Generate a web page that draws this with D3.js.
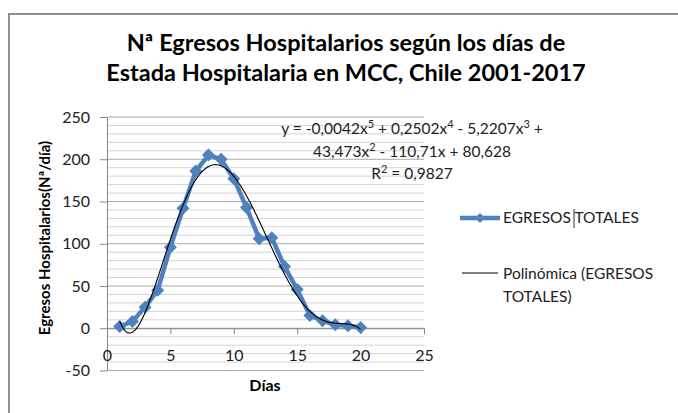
<!DOCTYPE html>
<html>
<head>
<meta charset="utf-8">
<script src="https://cdn.jsdelivr.net/npm/d3@7"></script>
<style>
  body { margin: 0; background: #fff; }
  svg { display: block; font-family: Lato, "Open Sans", sans-serif; }
</style>
</head>
<body>
<svg width="678" height="413"></svg>
<script>
// dias de estada y numero de egresos
const dias = [1, 2, 3, 4, 5, 6, 7, 8, 9, 10, 11, 12, 13, 14, 15, 16, 17, 18, 19, 20];
const egresos = [2, 8, 25, 45, 96, 142, 186, 205, 200, 177, 143, 106, 107, 73, 46, 15, 9, 4, 3, 1];
const yTicks = [-50, 0, 50, 100, 150, 200, 250];
const xTicks = [0, 5, 10, 15, 20, 25];
const titleLines = ["Nª Egresos Hospitalarios según los días de", "Estada Hospitalaria en MCC, Chile 2001-2017"];
// texto de la ecuacion: [texto, exponente]
const eqLines = [
    [["y = -0,0042x", "5"], [" + 0,2502x", "4"], [" - 5,2207x", "3"], [" +", ""]],
    [["43,473x", "2"], [" - 110,71x + 80,628", ""]],
    [["R", "2"], [" = 0,9827", ""]]
];

const blue = "#4f81bd";
const svg = d3.select("svg");

// marco del grafico
svg.append("rect")
    .attr("x", 9).attr("y", 14)
    .attr("width", 700).attr("height", 420)
    .attr("fill", "none")
    .attr("stroke", "#8f8f8f")
    .attr("stroke-width", 2);

const x = d3.scaleLinear().domain([0, 25]).range([107, 424]);
const y = d3.scaleLinear().domain([-50, 250]).range([370.5, 117]);

// grilla menor y mayor
const minor = d3.range(-50, 251, 10).filter(v => v % 50 !== 0);
svg.append("g").selectAll("line")
    .data(minor)
    .enter().append("line")
    .attr("x1", x(0)).attr("x2", x(25))
    .attr("y1", d => y(d)).attr("y2", d => y(d))
    .attr("stroke", "#d4d4d4");
svg.append("g").selectAll("line")
    .data(yTicks)
    .enter().append("line")
    .attr("x1", x(0)).attr("x2", x(25))
    .attr("y1", d => y(d)).attr("y2", d => y(d))
    .attr("stroke", "#a8a8a8");

// eje y
const gy = svg.append("g")
    .attr("transform", `translate(${x(0)},0)`)
    .call(d3.axisLeft(y).tickValues(yTicks).tickFormat(d => String(d))
        .tickSize(7).tickPadding(10).tickSizeOuter(0));
gy.select(".domain").attr("stroke", "#868686");
gy.selectAll(".tick line").attr("stroke", "#868686");
gy.selectAll("text").attr("font-size", 16).attr("fill", "#222").attr("font-family", "Lato");

// eje x en y=0
const gx = svg.append("g")
    .attr("transform", `translate(0,${y(0)})`)
    .call(d3.axisBottom(x).tickValues(xTicks).tickFormat(d => String(d))
        .tickSize(6).tickPadding(15).tickSizeOuter(0));
gx.select(".domain").attr("stroke", "#868686");
gx.selectAll(".tick line").attr("stroke", "#868686");
gx.selectAll("text").attr("font-size", 16).attr("fill", "#222").attr("font-family", "Lato");

// ajuste polinomico grado 5 (minimos cuadrados)
function polyFit(xs, ys, deg) {
    const n = deg + 1;
    const A = [];
    for (let i = 0; i < n; i++) {
        A.push(new Array(n + 1).fill(0));
    }
    xs.forEach((xv, k) => {
        const t = xv / 10;
        for (let i = 0; i < n; i++) {
            for (let j = 0; j < n; j++) A[i][j] += Math.pow(t, i + j);
            A[i][n] += ys[k] * Math.pow(t, i);
        }
    });
    for (let c = 0; c < n; c++) {
        let p = c;
        for (let r = c + 1; r < n; r++) if (Math.abs(A[r][c]) > Math.abs(A[p][c])) p = r;
        [A[c], A[p]] = [A[p], A[c]];
        for (let r = 0; r < n; r++) {
            if (r === c) continue;
            const f = A[r][c] / A[c][c];
            for (let j = c; j <= n; j++) A[r][j] -= f * A[c][j];
        }
    }
    const coef = A.map((row, i) => row[n] / row[i]);
    return xv => coef.reduce((s, cf, i) => s + cf * Math.pow(xv / 10, i), 0);
}
const fit = polyFit(dias, egresos, 5);
const trend = d3.range(dias[0], dias[dias.length - 1] + 0.001, 0.1).map(d => [d, fit(d)]);

// serie
svg.append("path")
    .datum(dias.map((d, i) => [d, egresos[i]]))
    .attr("fill", "none")
    .attr("stroke", blue)
    .attr("stroke-width", 4.5)
    .attr("stroke-linejoin", "round")
    .attr("d", d3.line().x(d => x(d[0])).y(d => y(d[1])));

svg.append("g").selectAll("path")
    .data(dias.map((d, i) => [d, egresos[i]]))
    .enter().append("path")
    .attr("transform", d => `translate(${x(d[0])},${y(d[1])})`)
    .attr("d", "M0,-6.5L6.5,0L0,6.5L-6.5,0Z")
    .attr("fill", blue);

// linea de tendencia
svg.append("path")
    .datum(trend)
    .attr("fill", "none")
    .attr("stroke", "#000")
    .attr("stroke-width", 1.1)
    .attr("d", d3.line().x(d => x(d[0])).y(d => y(d[1])).curve(d3.curveBasis));

// titulo
svg.append("g").selectAll("text")
    .data(titleLines)
    .enter().append("text")
    .attr("x", 346).attr("y", (d, i) => 51 + i * 30)
    .attr("text-anchor", "middle")
    .attr("font-size", 23.5).attr("font-weight", "bold")
    .attr("fill", "#000")
    .text(d => d);

// ecuacion
const eq = svg.append("g").selectAll("text")
    .data(eqLines)
    .enter().append("text")
    .attr("x", 412).attr("y", (d, i) => 134 + i * 22.5)
    .attr("text-anchor", "middle")
    .attr("font-size", 15.5)
    .attr("fill", "#222");
eq.each(function(parts) {
    const t = d3.select(this);
    let back = 0;
    parts.forEach(p => {
        t.append("tspan").attr("dy", back).text(p[0]);
        back = 0;
        if (p[1]) {
            t.append("tspan").attr("font-size", 11).attr("dy", -6).text(p[1]);
            back = 6;
        }
    });
});

// titulos de ejes
svg.append("text")
    .attr("transform", "translate(50,238) rotate(-90)")
    .attr("text-anchor", "middle")
    .attr("font-size", 15).attr("font-weight", "bold")
    .text("Egresos Hospitalarios(Nª/día)");
svg.append("text")
    .attr("x", 265).attr("y", 391)
    .attr("text-anchor", "middle")
    .attr("font-size", 16).attr("font-weight", "bold")
    .text("Días");

// leyenda
const lg = svg.append("g");
lg.append("line").attr("x1", 460).attr("x2", 500).attr("y1", 218).attr("y2", 218)
    .attr("stroke", blue).attr("stroke-width", 4.5);
lg.append("path").attr("transform", "translate(480,218)")
    .attr("d", "M0,-5L5,0L0,5L-5,0Z").attr("fill", blue);
lg.append("text").attr("x", 503).attr("y", 223).attr("font-size", 15.5).attr("fill", "#222")
    .text("EGRESOS TOTALES");
lg.append("line").attr("x1", 574).attr("x2", 574).attr("y1", 209).attr("y2", 228)
    .attr("stroke", "#333").attr("stroke-width", 1);
lg.append("line").attr("x1", 462).attr("x2", 498).attr("y1", 273).attr("y2", 273)
    .attr("stroke", "#000").attr("stroke-width", 1.1);
lg.append("text").attr("x", 503).attr("y", 279).attr("font-size", 15.5).attr("fill", "#222")
    .text("Polinómica (EGRESOS");
lg.append("text").attr("x", 503).attr("y", 302).attr("font-size", 15.5).attr("fill", "#222")
    .text("TOTALES)");
</script>
</body>
</html>
